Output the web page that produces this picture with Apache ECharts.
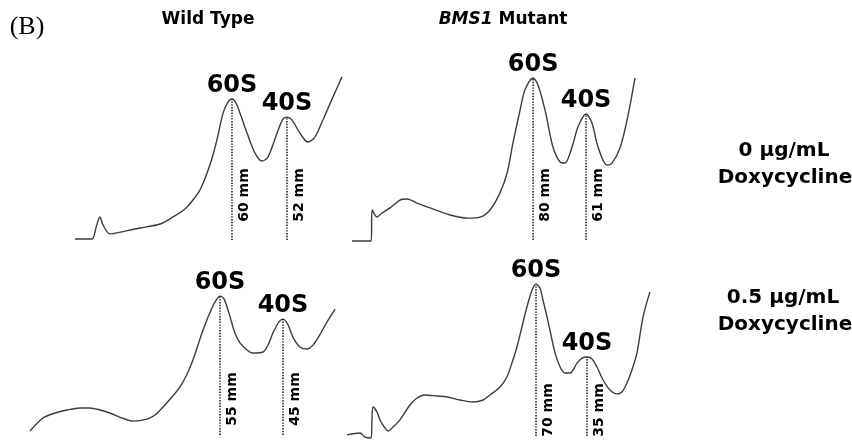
<!DOCTYPE html>
<html>
<head>
<meta charset="utf-8">
<script src="https://cdn.jsdelivr.net/npm/echarts@6/dist/echarts.min.js"></script>
<style>html,body{margin:0;padding:0;background:#fff}#c{width:852px;height:441px}</style>
</head>
<body>
<div id="c"></div>
<script>
// ---------- DATA (trace position mm, trace height mm above baseline) ----------
const panelLetter = '(B)';
const columnTitles = ['Wild Type', 'BMS1 Mutant'];
const rowTitles = [['0 μg/mL', 'Doxycycline'], ['0.5 μg/mL', 'Doxycycline']];
const peakNames = ['60S', '40S'];

const traceWT0 = [[0,0.4],[7.2,0.4],[8.9,5.1],[10.6,9.8],[11.9,6.4],[14.9,2.6],[21.3,3.8],[27.7,5.1],[36.2,6.8],[41.7,9.8],[46.8,13.2],[50.2,17.0],[53.2,21.3],[56.2,28.5],[58.7,36.2],[60.4,42.6],[63.0,54.0],[65.1,58.7],[66.8,60.0],[68.5,58.3],[70.2,54.0],[73.2,45.5],[76.6,37.0],[79.6,33.6],[82.1,35.3],[86.0,45.5],[88.5,51.5],[90.2,52.3],[92.3,51.1],[95.7,45.5],[99.1,41.7],[102.1,43.8],[105.5,51.1],[109.8,60.9],[113.6,69.4]];
const traceBMS0 = [[0,-0.5],[7.9,-0.5],[9.4,-0.5],[9.9,14.8],[12.3,11.3],[14.8,13.3],[18.7,15.8],[23.6,19.7],[27.1,20.2],[32.0,18.2],[38.4,15.8],[48.3,12.3],[56.7,10.8],[63.1,11.3],[68.0,14.8],[72.9,23.2],[76.4,33.0],[79.3,47.8],[82.8,64.0],[85.2,73.9],[89.2,79.8],[91.6,76.4],[95.1,64.0],[99.0,45.8],[102.5,38.4],[104.9,37.9],[108.4,45.8],[111.3,55.7],[115.3,62.1],[118.2,57.6],[121.2,45.8],[125.6,36.9],[128.1,37.9],[132.0,45.3],[135.5,59.1],[139.4,79.8]];
const traceWT05 = [[0,1.6],[5.1,6.7],[9.9,8.7],[14.6,9.9],[19.8,10.7],[23.7,10.7],[27.7,9.9],[31.6,8.7],[36.4,6.7],[40.7,5.5],[46.2,6.3],[49.4,7.9],[52.6,11.1],[56.1,15.0],[59.3,19.0],[62.1,24.1],[64.4,29.6],[68.4,41.5],[71.9,50.2],[73.9,53.8],[75.1,54.9],[76.7,53.8],[79.1,46.6],[81.0,40.3],[83.0,36.4],[85.8,33.6],[88.1,32.4],[92.1,32.8],[94.1,35.6],[96.0,40.3],[98.4,44.7],[100.0,45.8],[102.0,43.5],[103.9,38.7],[106.7,34.8],[109.5,34.0],[111.9,35.6],[113.8,38.3],[117.4,44.7],[120.6,49.8]];
const traceBMS05 = [[0,0.5],[6.0,1.4],[8.3,-0.5],[11.1,-0.9],[11.5,7.4],[12.0,13.4],[13.8,11.1],[15.2,7.4],[17.5,3.7],[18.9,2.3],[21.2,4.1],[24.4,7.4],[29.0,14.3],[32.3,17.5],[35.9,18.9],[41.5,18.4],[46.1,18.0],[52.1,16.6],[58.1,15.7],[62.7,16.6],[65.9,18.9],[70.5,22.6],[73.7,27.2],[76.0,33.6],[78.3,41.0],[80.6,50.2],[82.9,59.4],[85.3,67.3],[87.1,70.0],[88.9,68.2],[90.3,62.7],[92.2,54.8],[93.5,48.8],[95.9,38.2],[98.2,31.8],[100.5,29.0],[102.8,29.0],[106.0,33.6],[108.3,35.9],[110.6,36.4],[112.9,35.5],[115.2,31.8],[118.0,25.8],[121.2,21.2],[124.4,19.4],[126.7,20.3],[129.0,24.4],[131.3,30.4],[133.6,38.2],[136.4,54.8],[139.6,66.4]];

const peaksWT0 = [[66.8,60.0],[90.2,52.3]];
const peaksBMS0 = [[89.2,79.8],[115.3,62.1]];
const peaksWT05 = [[75.1,54.9],[100.0,45.8]];
const peaksBMS05 = [[87.1,70.0],[110.6,36.4]];

const heightLabelsWT0 = ['60 mm','52 mm'];
const heightLabelsBMS0 = ['80 mm','61 mm'];
const heightLabelsWT05 = ['55 mm','45 mm'];
const heightLabelsBMS05 = ['70 mm','35 mm'];

// ---------- LAYOUT ----------
const panels = [
  {trace: traceWT0, peaks: peaksWT0, hl: heightLabelsWT0, x0: 75, base: 240, s: 2.35, xmax: 116, ymin: -3, ymax: 75, lblDy: 45},
  {trace: traceBMS0, peaks: peaksBMS0, hl: heightLabelsBMS0, x0: 352, base: 240, s: 2.03, xmax: 142, ymin: -3, ymax: 85, lblDy: 45},
  {trace: traceWT05, peaks: peaksWT05, hl: heightLabelsWT05, x0: 30, base: 435, s: 2.53, xmax: 122, ymin: -2, ymax: 60, lblDy: 36},
  {trace: traceBMS05, peaks: peaksBMS05, hl: heightLabelsBMS05, x0: 347, base: 436, s: 2.17, xmax: 141, ymin: -2, ymax: 75, lblDy: 26}
];

const BOLD = 'bold';
const SANS = '"DejaVu Sans", sans-serif';

const grid = [], xAxis = [], yAxis = [], series = [];
panels.forEach((p, i) => {
  grid.push({left: p.x0, top: p.base - p.ymax * p.s, width: p.xmax * p.s, height: (p.ymax - p.ymin) * p.s, containLabel: false});
  xAxis.push({type: 'value', gridIndex: i, min: 0, max: p.xmax, show: false});
  yAxis.push({type: 'value', gridIndex: i, min: p.ymin, max: p.ymax, show: false});
  series.push({
    type: 'line', xAxisIndex: i, yAxisIndex: i, data: p.trace, showSymbol: false,
    smooth: 0.3, clip: false,
    lineStyle: {color: '#3c3c3c', width: 1.4}, silent: true, animation: false
  });
  p.peaks.forEach((pk, j) => {
    series.push({
      type: 'line', xAxisIndex: i, yAxisIndex: i, data: [[pk[0], 0], pk], showSymbol: false,
      lineStyle: {color: '#000', width: 1.4, type: [1.4, 1.4]}, silent: true, animation: false, clip: false
    });
    series.push({
      type: 'scatter', xAxisIndex: i, yAxisIndex: i, data: [pk], symbolSize: 0,
      itemStyle: {color: '#000', opacity: 1}, silent: true, animation: false, clip: false,
      label: {show: true, position: 'top', distance: 1, formatter: peakNames[j], opacity: 1,
        fontFamily: SANS, fontWeight: BOLD, fontSize: 24, color: '#000', textBorderWidth: 0}
    });
    series.push({
      type: 'scatter', xAxisIndex: i, yAxisIndex: i, data: [[pk[0], 0]], symbolSize: 0,
      itemStyle: {color: '#000', opacity: 1}, silent: true, animation: false, clip: false,
      label: {show: true, position: 'inside', rotate: 90, offset: [p.lblDy, 12], formatter: p.hl[j], opacity: 1,
        align: 'center', verticalAlign: 'middle', textBorderWidth: 0,
        fontFamily: SANS, fontWeight: BOLD, fontSize: 14, color: '#000'}
    });
  });
});

const graphic = [
  {type: 'text', x: 27, y: 27, style: {text: panelLetter, font: '26px "Liberation Serif", "DejaVu Serif", serif', fill: '#000', textAlign: 'center', textVerticalAlign: 'middle'}},
  {type: 'text', x: 208, y: 20, style: {text: columnTitles[0], font: 'bold 17px ' + SANS, fill: '#000', textAlign: 'center', textVerticalAlign: 'middle'}},
  {type: 'text', x: 503, y: 20, style: {
    text: '{i|' + columnTitles[1].split(' ')[0] + '} ' + columnTitles[1].split(' ').slice(1).join(' '),
    font: 'bold 17px ' + SANS, fill: '#000', textAlign: 'center', textVerticalAlign: 'middle',
    rich: {i: {fontStyle: 'italic', fontWeight: 'bold', fontSize: 17, fontFamily: SANS, fill: '#000'}}}},
  {type: 'text', x: 784, y: 151, style: {text: rowTitles[0][0], font: 'bold 20px ' + SANS, fill: '#000', textAlign: 'center', textVerticalAlign: 'middle'}},
  {type: 'text', x: 785, y: 178, style: {text: rowTitles[0][1], font: 'bold 20px ' + SANS, fill: '#000', textAlign: 'center', textVerticalAlign: 'middle'}},
  {type: 'text', x: 783, y: 298, style: {text: rowTitles[1][0], font: 'bold 20px ' + SANS, fill: '#000', textAlign: 'center', textVerticalAlign: 'middle'}},
  {type: 'text', x: 785, y: 325, style: {text: rowTitles[1][1], font: 'bold 20px ' + SANS, fill: '#000', textAlign: 'center', textVerticalAlign: 'middle'}}
];

const chart = echarts.init(document.getElementById('c'), null, {renderer: 'canvas'});
chart.setOption({backgroundColor: '#fff', animation: false, grid, xAxis, yAxis, series, graphic});
</script>
</body>
</html>
